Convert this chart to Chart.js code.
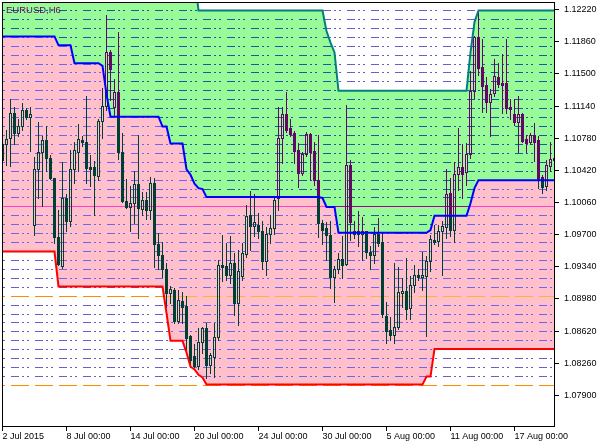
<!DOCTYPE html>
<html>
<head>
<meta charset="utf-8">
<script src="https://cdn.jsdelivr.net/npm/chart.js@4.4.0/dist/chart.umd.min.js"></script>
<style>
  html, body { margin: 0; padding: 0; background: #fff; }
  #wrap { width: 610px; height: 446px; }
</style>
</head>
<body>
<div id="wrap"><canvas id="chart"></canvas></div>
<script>
const symbol = 'EURUSD,H6';

// time axis: bar index of each label
const timeTickBars = [0, 16, 32, 48, 64, 80, 96, 112, 128];
const timeLabels = ['2 Jul 2015', '8 Jul 00:00', '14 Jul 00:00', '20 Jul 00:00', '24 Jul 00:00',
  '30 Jul 00:00', '5 Aug 00:00', '11 Aug 00:00', '17 Aug 00:00'];

const priceTicks = [1.0790, 1.0826, 1.0862, 1.0898, 1.0934, 1.0970, 1.1006,
  1.1042, 1.1078, 1.1114, 1.1150, 1.1186, 1.1222];

// H6 candles
const open = [
  1.1072, 1.1072, 1.1078, 1.1106, 1.1084, 1.1092, 1.1109, 1.1102,
  1.0981, 1.1043, 1.1062, 1.1076, 1.1056, 1.1033, 1.0967, 1.0935,
  1.1011, 1.0985, 1.1044, 1.1063, 1.1076, 1.1074, 1.1046, 1.1046,
  1.1036, 1.1097, 1.1114, 1.1174, 1.1113, 1.1130, 1.1062, 1.1008,
  1.1001, 1.1005, 1.1027, 1.0999, 1.1009, 1.0997, 1.1028, 1.0959,
  1.0947, 1.0932, 1.0905, 1.0908, 1.0873, 1.0896, 1.0890, 1.0856,
  1.0834, 1.0823, 1.0850, 1.0865, 1.0824, 1.0833, 1.0855, 1.0936,
  1.0935, 1.0925, 1.0938, 1.0893, 1.0924, 1.0948, 1.0992, 1.0980,
  1.0981, 1.0974, 1.0940, 1.0971, 1.0977, 1.1011, 1.1078, 1.1105,
  1.1089, 1.1084, 1.1065, 1.1039, 1.1060, 1.1083, 1.1064, 1.1031,
  1.0983, 1.0977, 1.0970, 1.0923, 1.0931, 1.0943, 1.0937, 1.1048,
  1.0971, 1.0974, 1.0971, 1.0974, 1.0951, 1.0947, 1.0971, 1.0962,
  1.0879, 1.0863, 1.0858, 1.0867, 1.0905, 1.0907, 1.0888, 1.0914,
  1.0925, 1.0922, 1.0924, 1.0940, 1.0964, 1.0963, 1.0974, 1.0979,
  1.1017, 1.0975, 1.1038, 1.1046, 1.1040, 1.1060, 1.1131, 1.1191,
  1.1158, 1.1137, 1.1119, 1.1129, 1.1146, 1.1140, 1.1140, 1.1113,
  1.1105, 1.1096, 1.1105, 1.1077, 1.1074, 1.1082, 1.1076, 1.1034,
  1.1024, 1.1047, 1.1053
];
const high = [
  1.1076, 1.1087, 1.1122, 1.1113, 1.1099, 1.1117, 1.1112, 1.1113,
  1.1057, 1.1096, 1.1080, 1.1092, 1.1059, 1.1033, 1.0998, 1.1051,
  1.1015, 1.1065, 1.1074, 1.1094, 1.1080, 1.1125, 1.1059, 1.1052,
  1.1099, 1.1134, 1.1216, 1.1177, 1.1144, 1.1197, 1.1084, 1.1032,
  1.1024, 1.1041, 1.1082, 1.1018, 1.1018, 1.1035, 1.1033, 1.0972,
  1.0962, 1.0938, 1.0912, 1.0910, 1.0908, 1.0906, 1.0901, 1.0858,
  1.0847, 1.0865, 1.0867, 1.0871, 1.0837, 1.0871, 1.0942, 1.0970,
  1.0961, 1.0968, 1.0949, 1.0953, 1.0961, 1.1003, 1.1019, 1.1016,
  1.0994, 1.0985, 1.0979, 1.0992, 1.1012, 1.1113, 1.1113, 1.1130,
  1.1100, 1.1086, 1.1073, 1.1062, 1.1085, 1.1084, 1.1074, 1.1082,
  1.0986, 1.0984, 1.0985, 1.0935, 1.0949, 1.0968, 1.1115, 1.1054,
  1.0985, 1.0996, 1.0990, 1.0974, 1.0957, 1.0979, 1.0989, 1.0972,
  1.0895, 1.0878, 1.0938, 1.0934, 1.0921, 1.0944, 1.0924, 1.0936,
  1.0932, 1.0951, 1.0946, 1.0970, 1.0981, 1.0981, 1.0985, 1.1043,
  1.1033, 1.1051, 1.1089, 1.1072, 1.1073, 1.1153, 1.1192, 1.1220,
  1.1189, 1.1146, 1.1133, 1.1167, 1.1162, 1.1172, 1.1189, 1.1122,
  1.1122, 1.1125, 1.1106, 1.1082, 1.1084, 1.1095, 1.1080, 1.1037,
  1.1054, 1.1074, 1.1076
];
const low = [
  1.1052, 1.1048, 1.1047, 1.1072, 1.1080, 1.1087, 1.1099, 1.1064,
  1.0970, 1.1011, 1.1002, 1.1041, 1.1032, 1.0961, 1.0936, 1.0933,
  1.0974, 1.0980, 1.1028, 1.1041, 1.1069, 1.1028, 1.1024, 1.0992,
  1.1031, 1.1078, 1.1110, 1.1121, 1.1102, 1.1055, 1.1007, 1.1000,
  1.0974, 1.0983, 1.0966, 1.0992, 1.0987, 1.0987, 1.0934, 1.0931,
  1.0923, 1.0889, 1.0893, 1.0871, 1.0871, 1.0871, 1.0837, 1.0824,
  1.0822, 1.0820, 1.0837, 1.0809, 1.0815, 1.0811, 1.0852, 1.0918,
  1.0919, 1.0916, 1.0880, 1.0869, 1.0919, 1.0945, 1.0953, 1.0968,
  1.0966, 1.0931, 1.0925, 1.0961, 1.0971, 1.0998, 1.1050, 1.1085,
  1.1080, 1.1050, 1.1023, 1.1037, 1.1058, 1.1031, 1.1026, 1.0967,
  1.0959, 1.0942, 1.0910, 1.0894, 1.0927, 1.0921, 1.0936, 1.0964,
  1.0966, 1.0957, 1.0942, 1.0944, 1.0932, 1.0938, 1.0957, 1.0878,
  1.0849, 1.0852, 1.0849, 1.0864, 1.0889, 1.0875, 1.0875, 1.0906,
  1.0919, 1.0908, 1.0856, 1.0929, 1.0959, 1.0957, 1.0925, 1.0966,
  1.0968, 1.0962, 1.1020, 1.1011, 1.1026, 1.1056, 1.1123, 1.1149,
  1.1107, 1.1107, 1.1080, 1.1125, 1.1135, 1.1106, 1.1106, 1.1099,
  1.1093, 1.1063, 1.1074, 1.1063, 1.1072, 1.1052, 1.1022, 1.1017,
  1.1020, 1.1041, 1.1018
];
const close = [
  1.1054, 1.1077, 1.1106, 1.1084, 1.1092, 1.1109, 1.1102, 1.1105,
  1.1043, 1.1062, 1.1076, 1.1056, 1.1033, 1.0967, 1.0937, 1.1011,
  1.0985, 1.1044, 1.1065, 1.1077, 1.1074, 1.1045, 1.1044, 1.1037,
  1.1097, 1.1114, 1.1174, 1.1155, 1.1130, 1.1062, 1.1008, 1.1001,
  1.1005, 1.1027, 1.1000, 1.1009, 1.0997, 1.1028, 1.0959, 1.0947,
  1.0932, 1.0905, 1.0909, 1.0873, 1.0897, 1.0889, 1.0854, 1.0830,
  1.0823, 1.0850, 1.0865, 1.0824, 1.0835, 1.0855, 1.0936, 1.0934,
  1.0925, 1.0938, 1.0893, 1.0929, 1.0949, 1.0991, 1.0980, 1.0984,
  1.0974, 1.0940, 1.0971, 1.0977, 1.1009, 1.1078, 1.1105, 1.1087,
  1.1083, 1.1064, 1.1039, 1.1060, 1.1083, 1.1063, 1.1031, 1.0983,
  1.0975, 1.0969, 1.0923, 1.0932, 1.0943, 1.0936, 1.1048, 1.0984,
  1.0974, 1.0971, 1.0974, 1.0951, 1.0947, 1.0971, 1.0961, 1.0881,
  1.0862, 1.0858, 1.0867, 1.0906, 1.0907, 1.0887, 1.0914, 1.0925,
  1.0922, 1.0925, 1.0940, 1.0965, 1.0962, 1.0974, 1.0980, 1.1016,
  1.0975, 1.1038, 1.1046, 1.1038, 1.1060, 1.1131, 1.1191, 1.1157,
  1.1136, 1.1119, 1.1128, 1.1148, 1.1139, 1.1138, 1.1112, 1.1111,
  1.1096, 1.1105, 1.1075, 1.1073, 1.1082, 1.1074, 1.1031, 1.1023,
  1.1048, 1.1055, 1.1056
];

// channel lines
const upperBand = [
  1.1260, 1.1260, 1.1260, 1.1260, 1.1260, 1.1260, 1.1260, 1.1260, 1.1260, 1.1260,
  1.1260, 1.1260, 1.1260, 1.1260, 1.1260, 1.1260, 1.1260, 1.1260, 1.1260, 1.1260,
  1.1260, 1.1260, 1.1260, 1.1260, 1.1260, 1.1260, 1.1260, 1.1260, 1.1260, 1.1260,
  1.1260, 1.1260, 1.1260, 1.1260, 1.1260, 1.1260, 1.1260, 1.1260, 1.1260, 1.1260,
  1.1260, 1.1260, 1.1260, 1.1260, 1.1260, 1.1260, 1.1260, 1.1260, 1.1260, 1.1221,
  1.1221, 1.1221, 1.1221, 1.1221, 1.1221, 1.1221, 1.1221, 1.1221, 1.1221, 1.1221,
  1.1221, 1.1221, 1.1221, 1.1221, 1.1221, 1.1221, 1.1221, 1.1221, 1.1221, 1.1221,
  1.1221, 1.1221, 1.1221, 1.1221, 1.1221, 1.1221, 1.1221, 1.1221, 1.1221, 1.1221,
  1.1221, 1.1198, 1.1185, 1.1174, 1.1131, 1.1131, 1.1131, 1.1131, 1.1131, 1.1131,
  1.1131, 1.1131, 1.1131, 1.1131, 1.1131, 1.1131, 1.1131, 1.1131, 1.1131, 1.1131,
  1.1131, 1.1131, 1.1131, 1.1131, 1.1131, 1.1131, 1.1131, 1.1131, 1.1131, 1.1131,
  1.1131, 1.1131, 1.1131, 1.1131, 1.1131, 1.1131, 1.1131, 1.1174, 1.1208, 1.1221,
  1.1221, 1.1221, 1.1221, 1.1221, 1.1221, 1.1221, 1.1221, 1.1221, 1.1221, 1.1221,
  1.1221, 1.1221, 1.1221, 1.1221, 1.1221, 1.1221, 1.1221, 1.1221, 1.1221
];
const middleBand = [
  1.1192, 1.1192, 1.1192, 1.1192, 1.1192, 1.1192, 1.1192, 1.1192, 1.1192, 1.1192,
  1.1192, 1.1192, 1.1192, 1.1192, 1.1182, 1.1182, 1.1182, 1.1182, 1.1162, 1.1162,
  1.1162, 1.1162, 1.1162, 1.1162, 1.1162, 1.1159, 1.1127, 1.1102, 1.1102, 1.1102,
  1.1102, 1.1102, 1.1102, 1.1102, 1.1102, 1.1102, 1.1102, 1.1102, 1.1102, 1.1102,
  1.1091, 1.1091, 1.1072, 1.1072, 1.1072, 1.1072, 1.1043, 1.1037, 1.1027, 1.1022,
  1.1021, 1.1012, 1.1012, 1.1012, 1.1012, 1.1012, 1.1012, 1.1012, 1.1012, 1.1012,
  1.1012, 1.1012, 1.1012, 1.1012, 1.1012, 1.1012, 1.1012, 1.1012, 1.1012, 1.1012,
  1.1012, 1.1012, 1.1012, 1.1012, 1.1012, 1.1012, 1.1012, 1.1012, 1.1012, 1.1012,
  1.1011, 1.1001, 1.1001, 1.1001, 1.0972, 1.0972, 1.0972, 1.0972, 1.0972, 1.0972,
  1.0972, 1.0972, 1.0972, 1.0972, 1.0972, 1.0972, 1.0972, 1.0972, 1.0972, 1.0972,
  1.0972, 1.0972, 1.0972, 1.0972, 1.0972, 1.0972, 1.0972, 1.0975, 1.0991, 1.0991,
  1.0991, 1.0991, 1.0991, 1.0991, 1.0991, 1.0991, 1.0991, 1.1005, 1.1022, 1.1031,
  1.1031, 1.1031, 1.1031, 1.1031, 1.1031, 1.1031, 1.1031, 1.1031, 1.1031, 1.1031,
  1.1031, 1.1031, 1.1031, 1.1031, 1.1031, 1.1031, 1.1031, 1.1031, 1.1031
];
const lowerBand = [
  1.0951, 1.0951, 1.0951, 1.0951, 1.0951, 1.0951, 1.0951, 1.0951, 1.0951, 1.0951,
  1.0951, 1.0951, 1.0951, 1.0951, 1.0912, 1.0912, 1.0912, 1.0912, 1.0912, 1.0912,
  1.0912, 1.0912, 1.0912, 1.0912, 1.0912, 1.0912, 1.0912, 1.0912, 1.0912, 1.0912,
  1.0912, 1.0912, 1.0912, 1.0912, 1.0912, 1.0912, 1.0912, 1.0912, 1.0912, 1.0912,
  1.0912, 1.0882, 1.0851, 1.0851, 1.0851, 1.0851, 1.0838, 1.0822, 1.0819, 1.0813,
  1.0810, 1.0802, 1.0802, 1.0802, 1.0802, 1.0802, 1.0802, 1.0802, 1.0802, 1.0802,
  1.0802, 1.0802, 1.0802, 1.0802, 1.0802, 1.0802, 1.0802, 1.0802, 1.0802, 1.0802,
  1.0802, 1.0802, 1.0802, 1.0802, 1.0802, 1.0802, 1.0802, 1.0802, 1.0802, 1.0802,
  1.0802, 1.0802, 1.0802, 1.0802, 1.0802, 1.0802, 1.0802, 1.0802, 1.0802, 1.0802,
  1.0802, 1.0802, 1.0802, 1.0802, 1.0802, 1.0802, 1.0802, 1.0802, 1.0802, 1.0802,
  1.0802, 1.0802, 1.0802, 1.0802, 1.0802, 1.0802, 1.0811, 1.0811, 1.0842, 1.0842,
  1.0842, 1.0842, 1.0842, 1.0842, 1.0842, 1.0842, 1.0842, 1.0842, 1.0842, 1.0842,
  1.0842, 1.0842, 1.0842, 1.0842, 1.0842, 1.0842, 1.0842, 1.0842, 1.0842, 1.0842,
  1.0842, 1.0842, 1.0842, 1.0842, 1.0842, 1.0842, 1.0842, 1.0842, 1.0842
];

// horizontal price levels every 10 pips
const levelStart = 1.0801;
const levelStep = 0.001;
const levelCount = 43;
const orangeLevels = [1.0801, 1.0901];
const magentaLevels = [1.1001];

const paper = '#ffffff';
const greenFill = '#98fb98';
const pinkFill = '#ffc0cb';
const candleInk = '#000000';
const gridInk = '#6a5acd';
const orangeInk = '#ff8c00';
const magentaInk = '#ff00ff';
const gridDash = [8, 3, 2, 3, 2, 6];
const orangeDash = [18, 6];
const dashPhase = 16;
const font = {family: '"Liberation Sans", Arial, sans-serif', size: 9};
const titleSize = 9.5;

// the terminal paints over the filled zones with XOR, so ink changes with the zone below it
const xorInk = (ink, under) => {
  const c = parseInt(ink.slice(1), 16) ^ parseInt(under.slice(1), 16) ^ 0xffffff;
  return '#' + c.toString(16).padStart(6, '0');
};

const bars = close.map((_, i) => i);
const points = arr => arr.map((v, i) => ({x: i, y: v}));

const zones = chart => {
  const up = chart.getDatasetMeta(0).data;
  const mid = chart.getDatasetMeta(1).data;
  const lo = chart.getDatasetMeta(2).data;
  const band = (top, bottom) => {
    const p = new Path2D();
    top.forEach((pt, k) => k ? p.lineTo(pt.x, pt.y) : p.moveTo(pt.x, pt.y));
    for (let k = bottom.length - 1; k >= 0; k--) p.lineTo(bottom[k].x, bottom[k].y);
    p.closePath();
    return p;
  };
  return [
    {under: paper, path: null},
    {under: greenFill, path: band(up, mid)},
    {under: pinkFill, path: band(mid, lo)}
  ];
};

const drawLevels = (ctx, area, yScale, under) => {
  ctx.lineWidth = 1;
  for (let k = 0; k < levelCount; k++) {
    const v = +(levelStart + k * levelStep).toFixed(4);
    let ink = gridInk, dash = gridDash;
    if (orangeLevels.includes(v)) { ink = orangeInk; dash = orangeDash; }
    else if (magentaLevels.includes(v)) { ink = magentaInk; dash = []; }
    const py = Math.floor(yScale.getPixelForValue(v)) + 0.5;
    ctx.strokeStyle = xorInk(ink, under);
    ctx.setLineDash(dash);
    ctx.lineDashOffset = dashPhase;
    ctx.beginPath();
    ctx.moveTo(area.left + 1, py);
    ctx.lineTo(area.right, py);
    ctx.stroke();
  }
  ctx.setLineDash([]);
};

const drawCandles = (chart, ctx, under) => {
  const ink = xorInk(candleInk, under);
  ctx.fillStyle = ink;
  ctx.strokeStyle = ink;
  ctx.lineWidth = 1;
  chart.data.datasets.forEach((ds, di) => {
    if (!ds.candle) return;
    chart.getDatasetMeta(di).data.forEach((el, i) => {
      const top = Math.round(Math.min(el.y, el.base));
      const bot = Math.round(Math.max(el.y, el.base));
      const left = el.x - el.width / 2;
      if (ds.candle === 'body') {
        if (close[i] > open[i]) ctx.strokeRect(left + 0.5, top + 0.5, el.width - 1, bot - top);
        else ctx.fillRect(left, top, el.width, bot - top + 1);
      } else if (bot > top) {
        if (ds.candle === 'wickUp') ctx.fillRect(left, top, el.width, bot - top);
        else ctx.fillRect(left, top + 1, el.width, bot - top);
      }
    });
  });
};

const terminalLook = {
  id: 'terminalLook',
  beforeDatasetDraw(chart, args) {
    if (chart.data.datasets[args.index].candle) return false;
  },
  beforeDatasetsDraw(chart) {
    const {ctx, chartArea: a} = chart;
    zones(chart).forEach(z => {
      ctx.save();
      ctx.beginPath();
      ctx.rect(a.left, a.top, a.right - a.left, a.bottom - a.top);
      ctx.clip();
      if (z.path) ctx.clip(z.path);
      drawLevels(ctx, a, chart.scales.y, z.under);
      drawCandles(chart, ctx, z.under);
      ctx.restore();
    });
  },
  afterDraw(chart) {
    const {ctx, chartArea: a} = chart;
    ctx.save();
    ctx.strokeStyle = '#000000';
    ctx.lineWidth = 1;
    ctx.strokeRect(a.left + 0.5, a.top + 0.5, a.right - a.left - 1, a.bottom - a.top - 1);
    ctx.font = titleSize + 'px ' + font.family;
    ctx.fillStyle = xorInk(candleInk, greenFill);
    ctx.textBaseline = 'alphabetic';
    ctx.fillText(symbol, 6, 13);
    ctx.restore();
  }
};

const lineStyle = {pointRadius: 0, borderWidth: 2, tension: 0, clip: 0};

new Chart(document.getElementById('chart'), {
  type: 'line',
  data: {
    datasets: [
      {...lineStyle, data: points(upperBand), borderColor: '#008080',
        fill: {target: '+1', above: greenFill, below: greenFill}},
      {...lineStyle, data: points(middleBand), borderColor: '#0000ff',
        fill: {target: '+1', above: pinkFill, below: pinkFill}},
      {...lineStyle, data: points(lowerBand), borderColor: '#ff0000', fill: false},
      {type: 'bar', candle: 'wickUp', grouped: false, barThickness: 1,
        data: bars.map(i => ({x: i, y: [Math.max(open[i], close[i]), high[i]]}))},
      {type: 'bar', candle: 'wickDown', grouped: false, barThickness: 1,
        data: bars.map(i => ({x: i, y: [low[i], Math.min(open[i], close[i])]}))},
      {type: 'bar', candle: 'body', grouped: false, barThickness: 3,
        data: bars.map(i => ({x: i, y: [open[i], close[i]]}))}
    ]
  },
  options: {
    responsive: true,
    maintainAspectRatio: false,
    animation: false,
    devicePixelRatio: 1,
    events: [],
    layout: {padding: {left: 2, top: 2, right: 0, bottom: 0}},
    plugins: {
      legend: {display: false},
      tooltip: {enabled: false},
      filler: {drawTime: 'beforeDraw'}
    },
    scales: {
      x: {
        type: 'linear', min: -0.125, max: 138.125, offset: false, bounds: 'data',
        grid: {drawOnChartArea: false, drawTicks: true, tickLength: 4, color: '#000000', offset: false},
        border: {display: false},
        ticks: {autoSkip: false, maxRotation: 0, align: 'start', padding: 0, color: '#000000', font,
          callback: (v, idx) => timeLabels[idx]},
        afterBuildTicks: s => { s.ticks = timeTickBars.map(v => ({value: v})); },
        afterFit: s => { s.height = 19; s.paddingLeft = 0; s.paddingRight = 0; }
      },
      y: {
        type: 'linear', position: 'right', min: 1.07545, max: 1.12305, bounds: 'data',
        grid: {drawOnChartArea: false, drawTicks: true, tickLength: 4, color: '#000000'},
        border: {display: false},
        ticks: {padding: 5, crossAlign: 'near', color: '#000000', font,
          callback: v => v.toFixed(5)},
        afterBuildTicks: s => { s.ticks = priceTicks.map(v => ({value: v})); },
        afterFit: s => { s.width = 55; s.paddingTop = 0; s.paddingBottom = 0; }
      }
    }
  },
  plugins: [terminalLook]
});
</script>
</body>
</html>
